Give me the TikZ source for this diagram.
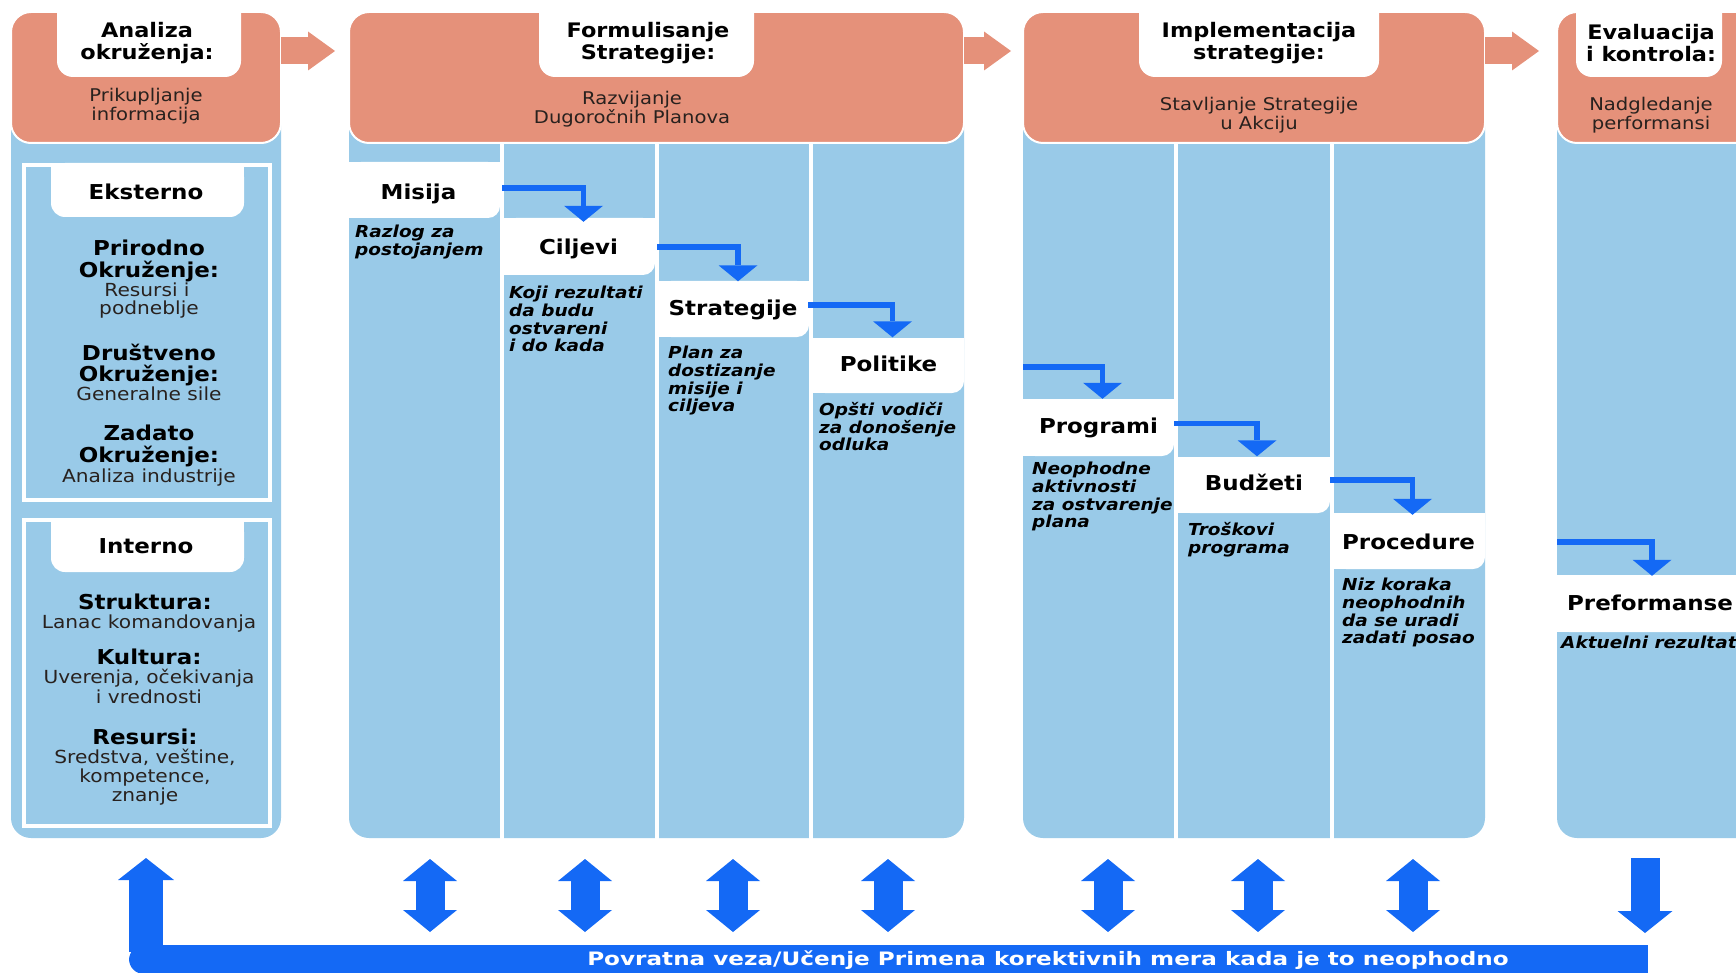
\documentclass[tikz,border=0pt]{standalone}
\usepackage{fontspec}
\setmainfont{DejaVu Sans}[FakeStretch=1.12,
  BoldFont={DejaVu Sans Bold},
  ItalicFont={DejaVu Sans Oblique},
  BoldItalicFont={DejaVu Sans Bold Oblique}]
\newfontfamily\barfont{DejaVu Sans Bold}[FakeStretch=1.25]
\usetikzlibrary{arrows.meta}

\definecolor{salmon}{RGB}{229,145,122}
\definecolor{paneblue}{RGB}{153,202,232}
\definecolor{arrowblue}{RGB}{20,105,245}
\definecolor{subtext}{RGB}{40,33,30}

% stage panel: blue body, salmon header, white title tab
% #1,#2 = panel left/right, #3,#4 = tab left/right
\newcommand{\stagepanel}[4]{%
  \fill[paneblue,rounded corners=20pt] (#1,80) rectangle (#2,838);
  \filldraw[fill=salmon,draw=white,line width=2pt,rounded corners=20pt] (#1,12) rectangle (#2,143);
  \fill[white,rounded corners=16pt] (#3,-30) rectangle (#4,77);
}
% white card with one rounded corner (bottom right)
\newcommand{\stepcard}[4]{%
  \fill[white,rounded corners=12pt] (#1,#2) rectangle (#3,#4);
  \fill[white] (#1,#2) rectangle (#3,#4-14);
  \fill[white] (#1,#2) rectangle (#3-14,#4);
}
% framed group in the first panel with a tab hanging from the top edge
\newcommand{\envframe}[2]{%
  \draw[white,line width=4pt] (24,#1) rectangle (270,#2);
  \fill[white,rounded corners=14pt] (51,#1-2) rectangle (244,#1+52);
  \fill[white] (51,#1-2) rectangle (244,#1+30);
}

\begin{document}
\begin{tikzpicture}[x=1pt,y=-1pt,
  title/.style={font=\bfseries\fontsize{20}{22}\selectfont,align=center,inner sep=0pt},
  subtitle/.style={font=\fontsize{17.5}{18.8}\selectfont,align=center,inner sep=0pt,text=subtext},
  stepname/.style={font=\bfseries\fontsize{20.5}{22}\selectfont,inner sep=0pt,
    text height=14pt,text depth=2pt},
  desc/.style={font=\bfseries\itshape\fontsize{16.5}{17.7}\selectfont,align=left,anchor=north west,inner sep=0pt},
  envtab/.style={font=\bfseries\fontsize{20.5}{22}\selectfont,inner sep=0pt,text height=16pt,text depth=2pt},
  envhead/.style={font=\bfseries\fontsize{20.5}{21}\selectfont,inner sep=0pt,text height=16.5pt,text depth=1.5pt},
  envline/.style={font=\fontsize{18}{19}\selectfont,inner sep=0pt,text=subtext,text height=14pt,text depth=1.5pt},
  flow/.style={arrowblue,line width=5.5pt,-{Triangle[width=39pt,length=16pt,line width=0pt]}},
  blockarrow/.style={salmon,line width=27pt,-{Triangle[width=39pt,length=27pt,line width=0pt]}},
  updown/.style={arrowblue,line width=29pt,
    {Triangle[width=54pt,length=22pt,line width=0pt]}-{Triangle[width=54pt,length=22pt,line width=0pt]}},
  uponly/.style={arrowblue,line width=34pt,-{Triangle[width=56pt,length=22pt,line width=0pt]}},
  downonly/.style={arrowblue,line width=29pt,-{Triangle[width=55pt,length=22pt,line width=0pt]}},
  bartext/.style={font=\barfont\fontsize{18.5}{20}\selectfont,text=white,inner sep=0pt}
]
\useasboundingbox (0,0) rectangle (1736,973);
\clip (0,0) rectangle (1736,973);

% ---------- the four stages ----------
\stagepanel{11}{281}{57}{241}
\stagepanel{349}{964}{539}{754}
\stagepanel{1023}{1485}{1139}{1379}
\stagepanel{1557}{1780}{1576}{1722}

% column separators
\foreach \x in {502,657,811,1176,1332}
  \draw[white,line width=3.5pt] (\x,143) -- (\x,840);

% stage titles and subtitles
\node[title] (t-ana) at (147,43.5) {Analiza\\okruženja:};
\node[title] (t-for) at (648,43.5) {Formulisanje\\Strategije:};
\node[title] (t-imp) at (1259,43.5) {Implementacija\\strategije:};
\node[title] (t-eva) at (1651,43.5) {Evaluacija\\i kontrola:};

\node[subtitle] (s-ana) at (146,106) {Prikupljanje\\informacija};
\node[subtitle] (s-for) at (632,109.5) {Razvijanje\\Dugoročnih Planova};
\node[subtitle] (s-imp) at (1259,115) {Stavljanje Strategije\\u Akciju};
\node[subtitle] (s-eva) at (1651,115) {Nadgledanje\\performansi};

% arrows between stages
\coordinate (h1a) at (281,51);  \coordinate (h1b) at (335,51);
\coordinate (h2a) at (964,51);  \coordinate (h2b) at (1011,51);
\coordinate (h3a) at (1485,51); \coordinate (h3b) at (1539,51);
\draw[blockarrow] (h1a) -- (h1b);
\draw[blockarrow] (h2a) -- (h2b);
\draw[blockarrow] (h3a) -- (h3b);

% ---------- environment analysis ----------
\envframe{165}{500}
\envframe{520}{826}
\node[envtab] (eksterno) at (146,193) {Eksterno};
\node[envtab] (interno) at (146,546) {Interno};

\node[envhead] (e1) at (149,248) {Prirodno};
\node[envhead] (e2) at (149,270) {Okruženje:};
\node[envline] (e3) at (147,290) {Resursi i};
\node[envline] (e4) at (149,308) {podneblje};
\node[envhead] (e5) at (149,353) {Društveno};
\node[envhead] (e6) at (149,374) {Okruženje:};
\node[envline] (e7) at (149,394) {Generalne sile};
\node[envhead] (e8) at (149,433) {Zadato};
\node[envhead] (e9) at (149,455) {Okruženje:};
\node[envline] (e10) at (149,476) {Analiza industrije};

\node[envhead] (i1) at (145,602) {Struktura:};
\node[envline] (i2) at (149,622) {Lanac komandovanja};
\node[envhead] (i3) at (149,657) {Kultura:};
\node[envline] (i4) at (149,677) {Uverenja, očekivanja};
\node[envline] (i5) at (149,697) {i vrednosti};
\node[envhead] (i6) at (145,737) {Resursi:};
\node[envline] (i7) at (145,757) {Sredstva, veštine,};
\node[envline] (i8) at (145,776) {kompetence,};
\node[envline] (i9) at (145,795) {znanje};

% ---------- staircase of steps ----------
\stepcard{349}{162}{500}{218}
\stepcard{504}{218}{655}{275}
\stepcard{659}{281}{809}{337}
\stepcard{813}{338}{964}{393}
\stepcard{1023}{399}{1174}{456}
\stepcard{1178}{457}{1330}{513}
\stepcard{1334}{513}{1485}{569}
\stepcard{1557}{575}{1780}{632}

\node[stepname,minimum width=139pt,minimum height=50pt] (misija) at (418.5,194) {Misija};
\node[stepname,minimum width=151pt,minimum height=57pt] (ciljevi) at (578.5,249) {Ciljevi};
\node[stepname,minimum width=150pt,minimum height=56pt] (strategije) at (733,309.5) {Strategije};
\node[stepname,minimum width=151pt,minimum height=55pt] (politike) at (888.5,365) {Politike};
\node[stepname,minimum width=151pt,minimum height=57pt] (programi) at (1098.5,427.5) {Programi};
\node[stepname,minimum width=152pt,minimum height=56pt] (budzeti) at (1254,484.5) {Budžeti};
\node[stepname,minimum width=151pt,minimum height=56pt] (procedure) at (1408.5,543) {Procedure};
\node[stepname,minimum width=186pt,minimum height=57pt] (preformanse) at (1650,604.5) {Preformanse};

\node[desc] (d-misija) at (355,225) {Razlog za\\postojanjem};
\node[desc] (d-ciljevi) at (509,286) {Koji rezultati\\da budu\\ostvareni\\i do kada};
\node[desc] (d-strategije) at (668,346) {Plan za\\dostizanje\\misije i\\ciljeva};
\node[desc] (d-politike) at (819,402) {Opšti vodiči\\za donošenje\\odluka};
\node[desc] (d-programi) at (1032,462) {Neophodne\\aktivnosti\\za ostvarenje\\plana};
\node[desc] (d-budzeti) at (1188,522) {Troškovi\\programa};
\node[desc] (d-procedure) at (1342,578) {Niz koraka\\neophodnih\\da se uradi\\zadati posao};
\node[desc] (d-preformanse) at (1561,636) {Aktuelni rezultati};

% step-to-step arrows
\coordinate (p3in) at (1023,367);
\coordinate (p4in) at (1557,542);
\draw[flow] ([xshift=14pt,yshift=6pt]misija.east) -| ([xshift=5pt,yshift=-1.5pt]ciljevi.north);
\draw[flow] ([xshift=3pt,yshift=2pt]ciljevi.east) -| ([xshift=5pt]strategije.north);
\draw[flow] ([yshift=4.5pt]strategije.east) -| ([xshift=4pt]politike.north);
\draw[flow] (p3in) -| ([xshift=4pt]programi.north);
\draw[flow] ([yshift=4pt]programi.east) -| ([xshift=3pt]budzeti.north);
\draw[flow] ([yshift=4.5pt]budzeti.east) -| ([xshift=4pt]procedure.north);
\draw[flow] (p4in) -| ([xshift=2pt]preformanse.north);

% ---------- feedback loop ----------
\fill[arrowblue,rounded corners=15pt] (129,945) rectangle (200,974);
\fill[arrowblue] (160,945) rectangle (1648,974);
\coordinate (upfoot) at (146,952);
\coordinate (uptip) at (146,858);
\draw[uponly] (upfoot) -- (uptip);

\foreach \x [count=\i] in {430,585,733,888,1108,1258,1413} {
  \coordinate (fa\i) at (\x,859);
  \coordinate (fb\i) at (\x,932);
  \draw[updown] (fa\i) -- (fb\i);
}
\coordinate (dntop) at (1645,858);
\coordinate (dntip) at (1645,933);
\draw[downonly] (dntop) -- (dntip);

\node[bartext] (feedback) at (1048,960) {Povratna veza/Učenje Primena korektivnih mera kada je to neophodno};
\end{tikzpicture}
\end{document}
